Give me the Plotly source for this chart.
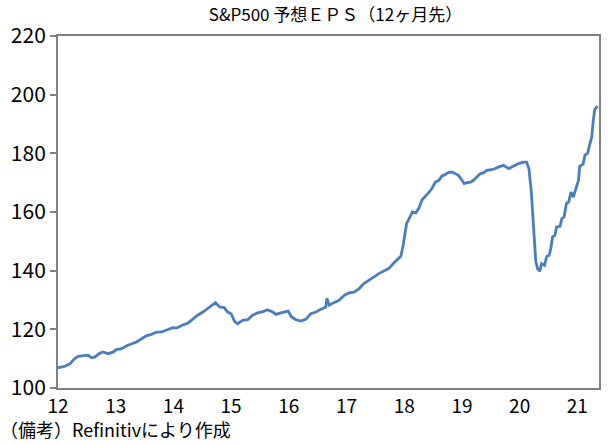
import plotly.graph_objects as go

# decimal year (12 = Jan 2012) and forward 12-month EPS
years = [12.00, 12.12, 12.21, 12.29, 12.35, 12.47, 12.52, 12.58, 12.64, 12.73, 12.78, 12.87, 12.96,
         13.01, 13.10, 13.19, 13.27, 13.36, 13.45, 13.53, 13.62, 13.70, 13.79, 13.88, 13.99,
         14.05, 14.16, 14.25, 14.34, 14.42, 14.51, 14.60, 14.68, 14.73, 14.80, 14.88, 14.94,
         15.00, 15.06, 15.11, 15.20, 15.29, 15.37, 15.46, 15.55, 15.63, 15.72, 15.78, 15.86, 15.92, 15.99,
         16.04, 16.12, 16.21, 16.30, 16.38, 16.47, 16.55, 16.64, 16.66, 16.70, 16.78, 16.87, 16.96,
         17.04, 17.13, 17.22, 17.30, 17.39, 17.47, 17.56, 17.65, 17.73, 17.82, 17.94, 17.98,
         18.04, 18.10, 18.14, 18.20, 18.25, 18.31, 18.37, 18.42, 18.48, 18.54, 18.60, 18.65, 18.71,
         18.77, 18.83, 18.88, 18.94, 19.00, 19.04, 19.09, 19.15, 19.20, 19.26, 19.32, 19.37, 19.43,
         19.49, 19.55, 19.63, 19.72, 19.81, 19.89, 19.98, 20.07, 20.12, 20.16, 20.20, 20.23, 20.26,
         20.28, 20.31, 20.35, 20.38, 20.43, 20.47, 20.51, 20.54, 20.57, 20.61, 20.64, 20.70, 20.73,
         20.77, 20.81, 20.85, 20.89, 20.93, 20.97, 21.02, 21.04, 21.10, 21.13, 21.18, 21.21, 21.25,
         21.27, 21.30, 21.35]
eps = [106.9, 107.4, 108.3, 110.0, 110.8, 111.0, 111.2, 110.3, 110.6, 111.9, 112.3, 111.7, 112.3,
       113.1, 113.4, 114.4, 115.1, 115.7, 116.8, 117.8, 118.3, 119.0, 119.1, 119.9, 120.6,
       120.4, 121.5, 122.1, 123.6, 124.8, 125.9, 127.3, 128.4, 129.1, 127.6, 127.4, 125.9,
       125.3, 122.7, 121.9, 123.1, 123.3, 124.8, 125.6, 126.0, 126.7, 125.9, 125.1, 125.6, 125.9, 126.2,
       124.4, 123.3, 122.8, 123.5, 125.3, 125.9, 126.8, 127.6, 130.5, 128.2, 129.1, 129.9, 131.6,
       132.4, 132.7, 133.9, 135.6, 136.9, 137.8, 139.0, 139.9, 140.7, 142.6, 144.9, 148.5,
       156.0, 158.3, 160.0, 159.7, 161.2, 164.2, 165.3, 166.5, 168.0, 170.2, 170.8, 172.2, 172.8,
       173.5, 173.6, 173.1, 172.5, 170.8, 169.7, 170.0, 170.2, 170.8, 171.9, 173.1, 173.3, 174.2,
       174.4, 174.6, 175.3, 175.9, 174.8, 175.6, 176.5, 177.0, 177.0, 174.8, 167.4, 158.3, 149.2,
       143.0, 140.7, 139.8, 142.4, 141.8, 144.9, 145.2, 147.5, 151.5, 152.0, 154.9, 155.1, 157.7,
       158.3, 162.9, 163.4, 166.8, 165.1, 168.0, 170.8, 175.6, 176.3, 179.3, 180.1, 182.7, 185.6,
       190.1, 194.9, 196.1]

x_ticks = [12, 13, 14, 15, 16, 17, 18, 19, 20, 21]
x_labels = ["12", "13", "14", "15", "16", "17", "18", "19", "20", "21"]
y_ticks = [100, 120, 140, 160, 180, 200, 220]

title_text = "S&P500 予想ＥＰＳ（12ヶ月先）"
note_text = "（備考）Refinitivにより作成"

num_font = "Noto Sans CJK JP, sans-serif"
jp_font = "Noto Sans CJK JP, sans-serif"

fig = go.Figure()
fig.add_trace(go.Scatter(x=years, y=eps, mode="lines",
                         line=dict(color="#4a7ebb", width=2.8), showlegend=False))

fig.update_layout(
    width=610, height=444,
    margin=dict(l=58, r=9, t=36, b=56),
    paper_bgcolor="white", plot_bgcolor="white",
    font=dict(family=num_font, color="black", size=18),
    title=dict(text=title_text, x=0.55, xanchor="center", y=0.966, yanchor="middle",
               font=dict(family=jp_font, size=17, color="black")),
    xaxis=dict(range=[12, 21.375], tickvals=x_ticks, ticktext=x_labels,
               showgrid=False, zeroline=False, showline=True, linecolor="#808080",
               linewidth=2, mirror=True, ticks="", tickfont=dict(size=19, family=num_font)),
    yaxis=dict(range=[100, 220], tickvals=y_ticks, showgrid=False, zeroline=False,
               showline=True, linecolor="#808080", linewidth=2, mirror=True,
               ticks="outside", ticklen=6, tickcolor="#808080", tickwidth=1.5,
               tickfont=dict(size=21, family=num_font)),
    annotations=[dict(text=note_text, x=0, y=0, xref="paper", yref="paper",
                      xanchor="left", yanchor="middle", xshift=-60, yshift=-41,
                      showarrow=False, font=dict(family=jp_font, size=18, color="black"))],
)

fig.write_html("out.html")
